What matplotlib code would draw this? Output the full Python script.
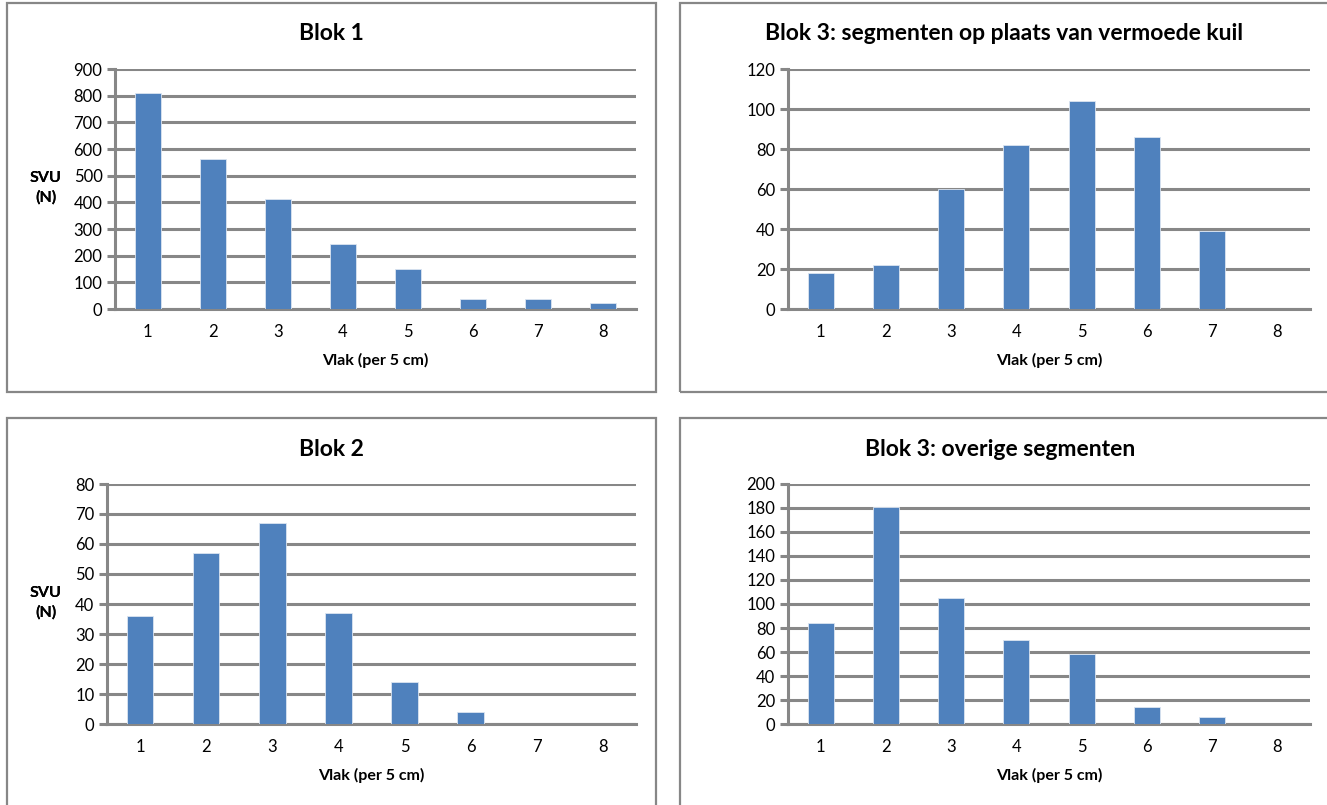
import matplotlib
matplotlib.use("Agg")
import matplotlib.pyplot as plt
from matplotlib.patches import Rectangle

plt.rcParams['font.family'] = ['Lato', 'DejaVu Sans']

vlak = [1, 2, 3, 4, 5, 6, 7, 8]

blok1 = [810, 561, 414, 245, 149, 37, 37, 21]
blok3_kuil = [18, 22, 60, 82, 104, 86, 39, 0]
blok2 = [36, 57, 67, 37, 14, 4, 0, 0]
blok3_overig = [84, 181, 105, 70, 58, 14, 6, 0]

titles = ["Blok 1", "Blok 3: segmenten op plaats van vermoede kuil",
          "Blok 2", "Blok 3: overige segmenten"]
ymax = [900, 120, 80, 200]
ystep = [100, 20, 10, 20]

BAR = "#4F81BD"
GRID = "#878787"

fig = plt.figure(figsize=(13.27, 8.05), dpi=100)
W, H = 1327.0, 805.0

def fx(px):
    return px / W

def fy(py):
    return 1 - py / H

# frames around each chart (pixel coords: left, top, right, bottom)
frames = [(6.5, 3, 656, 392), (680, 3, 1340, 392),
          (6.5, 418, 656, 820), (680, 418, 1340, 820)]
for l, t, r, b in frames:
    fig.patches.append(Rectangle((fx(l), fy(b)), fx(r - l), fy(t) - fy(b),
                                 transform=fig.transFigure, fill=False,
                                 edgecolor=GRID, linewidth=1.6))

# plot areas (pixel coords: left, right, top, zero line)
areas = [(115, 636, 69, 309), (788, 1310, 69, 309),
         (107, 636, 484, 724), (788, 1310, 484, 724)]
title_x = [331, 1004, 331, 1000]
title_y = [33, 33, 449, 449]
data = [blok1, blok3_kuil, blok2, blok3_overig]

for i in range(4):
    l, r, t, z = areas[i]
    ax = fig.add_axes([fx(l), fy(z), fx(r - l), fy(t) - fy(z)])
    x = list(range(len(vlak)))
    ax.bar(x, data[i], width=0.4, color=BAR, edgecolor="#dbe5f1",
           linewidth=0.6, zorder=3)
    ax.set_xlim(-0.5, len(vlak) - 0.5)
    ax.set_ylim(0, ymax[i])
    ax.set_yticks(range(0, ymax[i] + 1, ystep[i]))
    ax.set_xticks(x)
    ax.set_xticklabels([str(v) for v in vlak])
    ax.yaxis.grid(True, color=GRID, linewidth=2.2, zorder=0)
    ax.set_axisbelow(True)
    for s in ["top", "right"]:
        ax.spines[s].set_visible(False)
    ax.spines["left"].set_color(GRID)
    ax.spines["left"].set_linewidth(2.2)
    ax.spines["bottom"].set_color(GRID)
    ax.spines["bottom"].set_linewidth(2.2)
    ax.tick_params(axis="y", length=6, width=2.2, color=GRID,
                   labelsize=12, pad=3)
    ax.tick_params(axis="x", length=0, labelsize=12, pad=11)
    ax.set_xlabel("Vlak (per 5 cm)", fontsize=11.5, fontweight="bold",
                  labelpad=9)
    fig.text(fx(46), fy(t + 119), "SVU\n(N)", ha="center", va="center",
             fontsize=11.5, fontweight="bold", linespacing=1.4)
    fig.text(fx(title_x[i]), fy(title_y[i]), titles[i], ha="center",
             va="center", fontsize=16.5, fontweight="bold")

fig.savefig("out.png", dpi=100)
